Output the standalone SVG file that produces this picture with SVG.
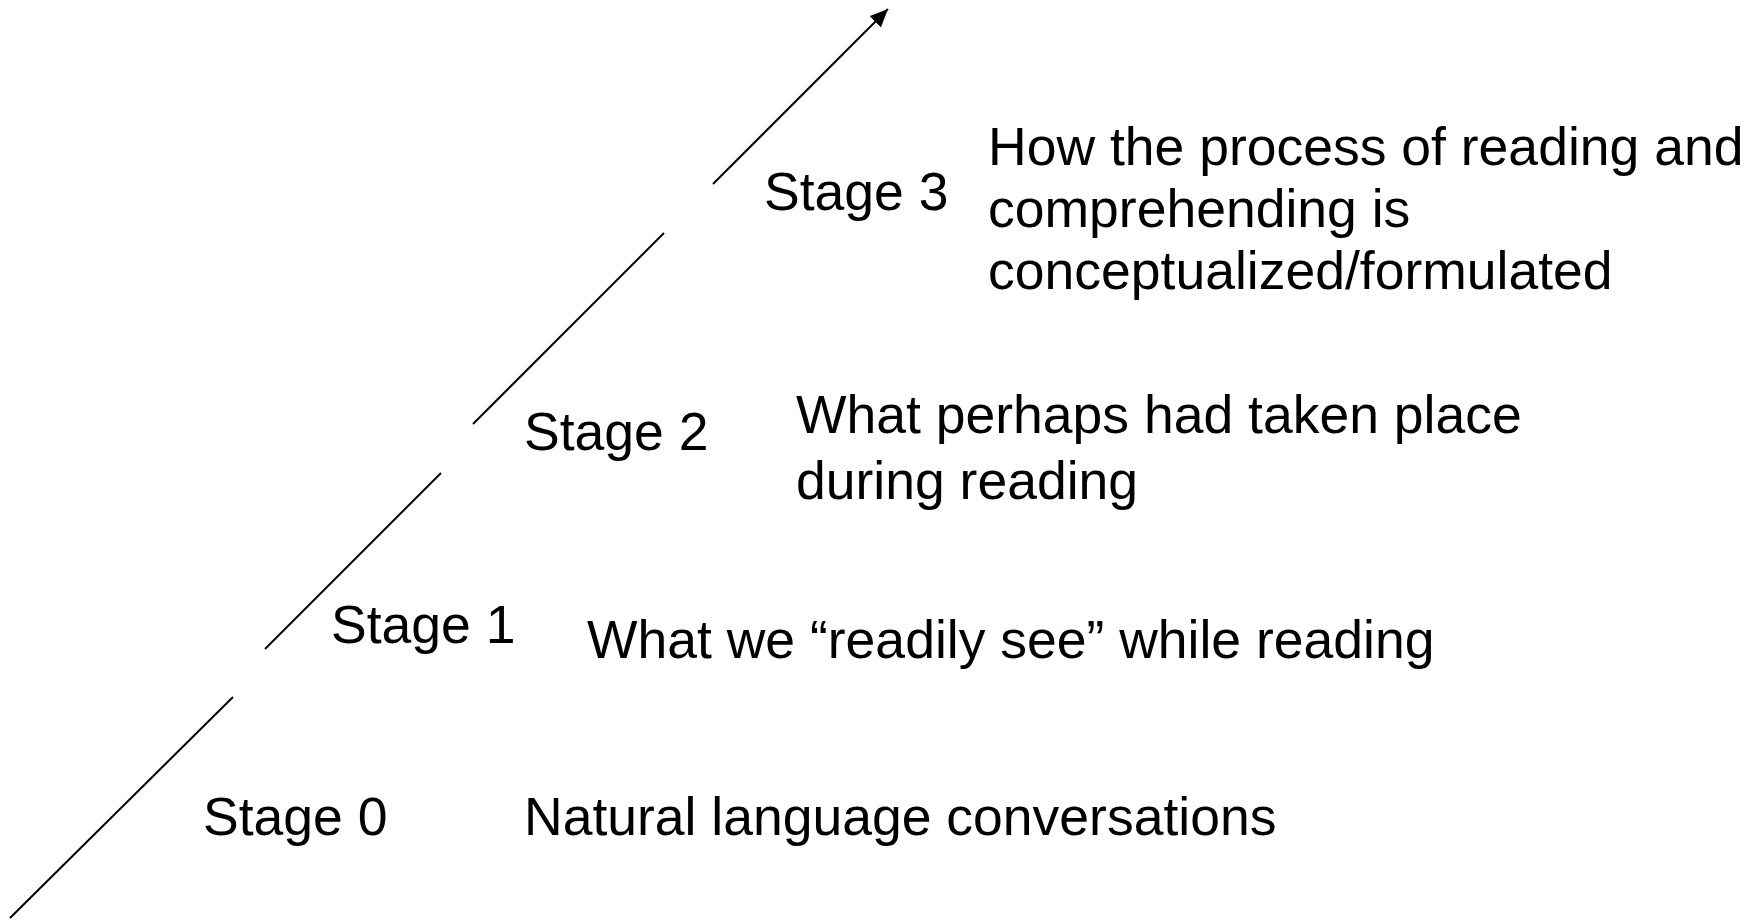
<svg xmlns="http://www.w3.org/2000/svg" width="1761" height="920" viewBox="0 0 1761 920">
<style>
text{font-family:"Liberation Sans",Arial,sans-serif;font-size:53.5px;fill:#000}
.ln{stroke:#000;stroke-width:2;fill:none}
</style>
<defs>
<marker id="ah" markerUnits="userSpaceOnUse" markerWidth="20" markerHeight="16" refX="18" refY="8" orient="auto">
<path d="M0,0 L18,8 L0,16 z" fill="#000"/>
</marker>
</defs>
<rect width="1761" height="920" fill="#fff"/>
<g id="connectors">
<line class="ln" x1="10" y1="918" x2="233" y2="697"/>
<line class="ln" x1="265" y1="649" x2="441" y2="473"/>
<line class="ln" x1="473" y1="424" x2="664" y2="233"/>
<line class="ln" x1="713" y1="184" x2="888" y2="9" marker-end="url(#ah)"/>
</g>
<g id="stage0">
<text x="203" y="835">Stage 0</text>
<text x="524" y="835">Natural language conversations</text>
</g>
<g id="stage1">
<text x="331" y="643">Stage 1</text>
<text x="587" y="658">What we “readily see” while reading</text>
</g>
<g id="stage2">
<text x="524" y="450">Stage 2</text>
<text x="796" y="433">What perhaps had taken place</text>
<text x="796" y="499">during reading</text>
</g>
<g id="stage3">
<text x="764" y="210">Stage 3</text>
<text x="988" y="165">How the process of reading and</text>
<text x="988" y="227">comprehending is</text>
<text x="988" y="289">conceptualized/formulated</text>
</g>
</svg>
